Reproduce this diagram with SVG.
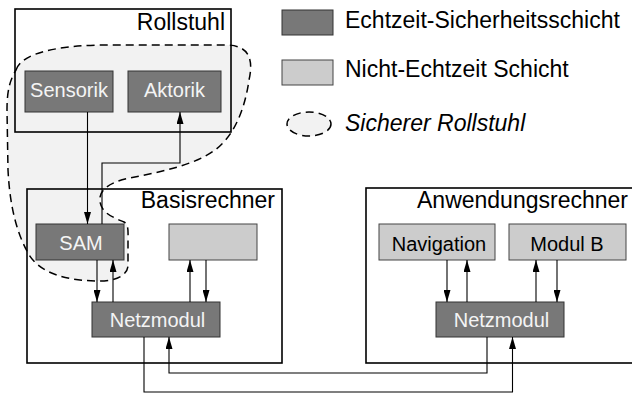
<svg xmlns="http://www.w3.org/2000/svg" width="632" height="394" viewBox="0 0 632 394">
  <defs>
    <marker id="arrow" viewBox="0 0 12 7" refX="12" refY="3.5" markerWidth="12" markerHeight="7" markerUnits="userSpaceOnUse" orient="auto">
      <path d="M0,0 L12,3.5 L0,7 Z" fill="#000"/>
    </marker>
    <style>
      .container { fill: none; stroke: #000; stroke-width: 1.6; }
      .rt { fill: #787878; stroke: #333; stroke-width: 1; }
      .nrt { fill: #cccccc; stroke: #444; stroke-width: 1; }
      .title { font-family: "Liberation Sans", Arial, sans-serif; font-size: 23px; fill: #000; }
      .lbl { font-family: "Liberation Sans", Arial, sans-serif; font-size: 20px; text-anchor: middle; }
      .lbl-rt { fill: #f4f4f4; }
      .lbl-nrt { fill: #000; }
      .conn { fill: none; stroke: #000; stroke-width: 1.1; }
      .legend { font-family: "Liberation Sans", Arial, sans-serif; font-size: 23px; fill: #000; }
    </style>
  </defs>

  <rect width="632" height="394" fill="#fff"/>

  <!-- safe wheelchair region (fill) -->
  <path id="safe-fill" d="M16,70 C22,52 60,46 100,45 L228,45 C248,46 254,58 249,80 C245,108 235,135 215,150 C195,165 160,172 130,178 C110,182 98,190 100,202 C102,214 115,218 124,222 C129,225 128,232 128,240 L128,266 C127,276 115,281 100,281 C70,281 40,275 28,253 C18,235 10,210 8,170 L7,110 C7,90 10,80 16,70 Z" fill="#f2f2f2"/>

  <!-- containers -->
  <g id="rollstuhl">
    <rect class="container" x="15" y="9" width="216" height="123"/>
    <text class="title" x="225" y="30" text-anchor="end">Rollstuhl</text>
  </g>
  <g id="basisrechner">
    <rect class="container" x="27" y="189" width="255" height="174"/>
    <text class="title" x="275" y="208" text-anchor="end">Basisrechner</text>
  </g>
  <g id="anwendungsrechner">
    <rect class="container" x="366" y="188" width="300" height="175"/>
    <text class="title" x="417" y="208">Anwendungsrechner</text>
  </g>

  <!-- safe wheelchair region (outline) -->
  <path id="safe-outline" d="M16,70 C22,52 60,46 100,45 L228,45 C248,46 254,58 249,80 C245,108 235,135 215,150 C195,165 160,172 130,178 C110,182 98,190 100,202 C102,214 115,218 124,222 C129,225 128,232 128,240 L128,266 C127,276 115,281 100,281 C70,281 40,275 28,253 C18,235 10,210 8,170 L7,110 C7,90 10,80 16,70 Z" fill="none" stroke="#000" stroke-width="1.5" stroke-dasharray="8 5"/>

  <!-- modules -->
  <g id="sensorik">
    <rect class="rt" x="25" y="71" width="88" height="41"/>
    <text class="lbl lbl-rt" x="69" y="97">Sensorik</text>
  </g>
  <g id="aktorik">
    <rect class="rt" x="128" y="71" width="93" height="41"/>
    <text class="lbl lbl-rt" x="174.5" y="97">Aktorik</text>
  </g>
  <g id="sam">
    <rect class="rt" x="36" y="224" width="88" height="36"/>
    <text class="lbl lbl-rt" x="81" y="250">SAM</text>
  </g>
  <g id="basis-modul">
    <rect class="nrt" x="169" y="224" width="88" height="36"/>
  </g>
  <g id="netzmodul-basis">
    <rect class="rt" x="92" y="302" width="128" height="35"/>
    <text class="lbl lbl-rt" x="157.5" y="327">Netzmodul</text>
  </g>
  <g id="navigation">
    <rect class="nrt" x="379" y="224" width="116" height="36"/>
    <text class="lbl lbl-nrt" x="439" y="251">Navigation</text>
  </g>
  <g id="modul-b">
    <rect class="nrt" x="509" y="224" width="117" height="36"/>
    <text class="lbl lbl-nrt" x="567" y="251">Modul B</text>
  </g>
  <g id="netzmodul-anwendung">
    <rect class="rt" x="436" y="302" width="128" height="35"/>
    <text class="lbl lbl-rt" x="501.5" y="327">Netzmodul</text>
  </g>

  <!-- connectors -->
  <g id="connectors" class="conn">
    <path d="M87.5,112 L87.5,224" marker-end="url(#arrow)"/>
    <path d="M102,224 L102,163 L180,163 L180,112" marker-end="url(#arrow)"/>
    <path d="M97,260 L97,302" marker-end="url(#arrow)"/>
    <path d="M113,302 L113,260" marker-end="url(#arrow)"/>
    <path d="M190,302 L190,260" marker-end="url(#arrow)"/>
    <path d="M206,260 L206,302" marker-end="url(#arrow)"/>
    <path d="M144,337 L144,392 L512.5,392 L512.5,337" marker-end="url(#arrow)"/>
    <path d="M487,337 L487,373 L169,373 L169,337" marker-end="url(#arrow)"/>
    <path d="M447,260 L447,302" marker-end="url(#arrow)"/>
    <path d="M467,302 L467,260" marker-end="url(#arrow)"/>
    <path d="M536,302 L536,260" marker-end="url(#arrow)"/>
    <path d="M557,260 L557,302" marker-end="url(#arrow)"/>
  </g>

  <!-- legend -->
  <g id="legend">
    <rect class="rt" x="282" y="10" width="51" height="25"/>
    <text class="legend" x="345" y="28">Echtzeit-Sicherheitsschicht</text>
    <rect class="nrt" x="282" y="60" width="51" height="25"/>
    <text class="legend" x="345" y="77">Nicht-Echtzeit Schicht</text>
    <ellipse cx="309" cy="124" rx="22" ry="12" fill="#f2f2f2" stroke="#000" stroke-width="1.5" stroke-dasharray="8 5"/>
    <text class="legend" x="345" y="131" font-style="italic">Sicherer Rollstuhl</text>
  </g>
</svg>
